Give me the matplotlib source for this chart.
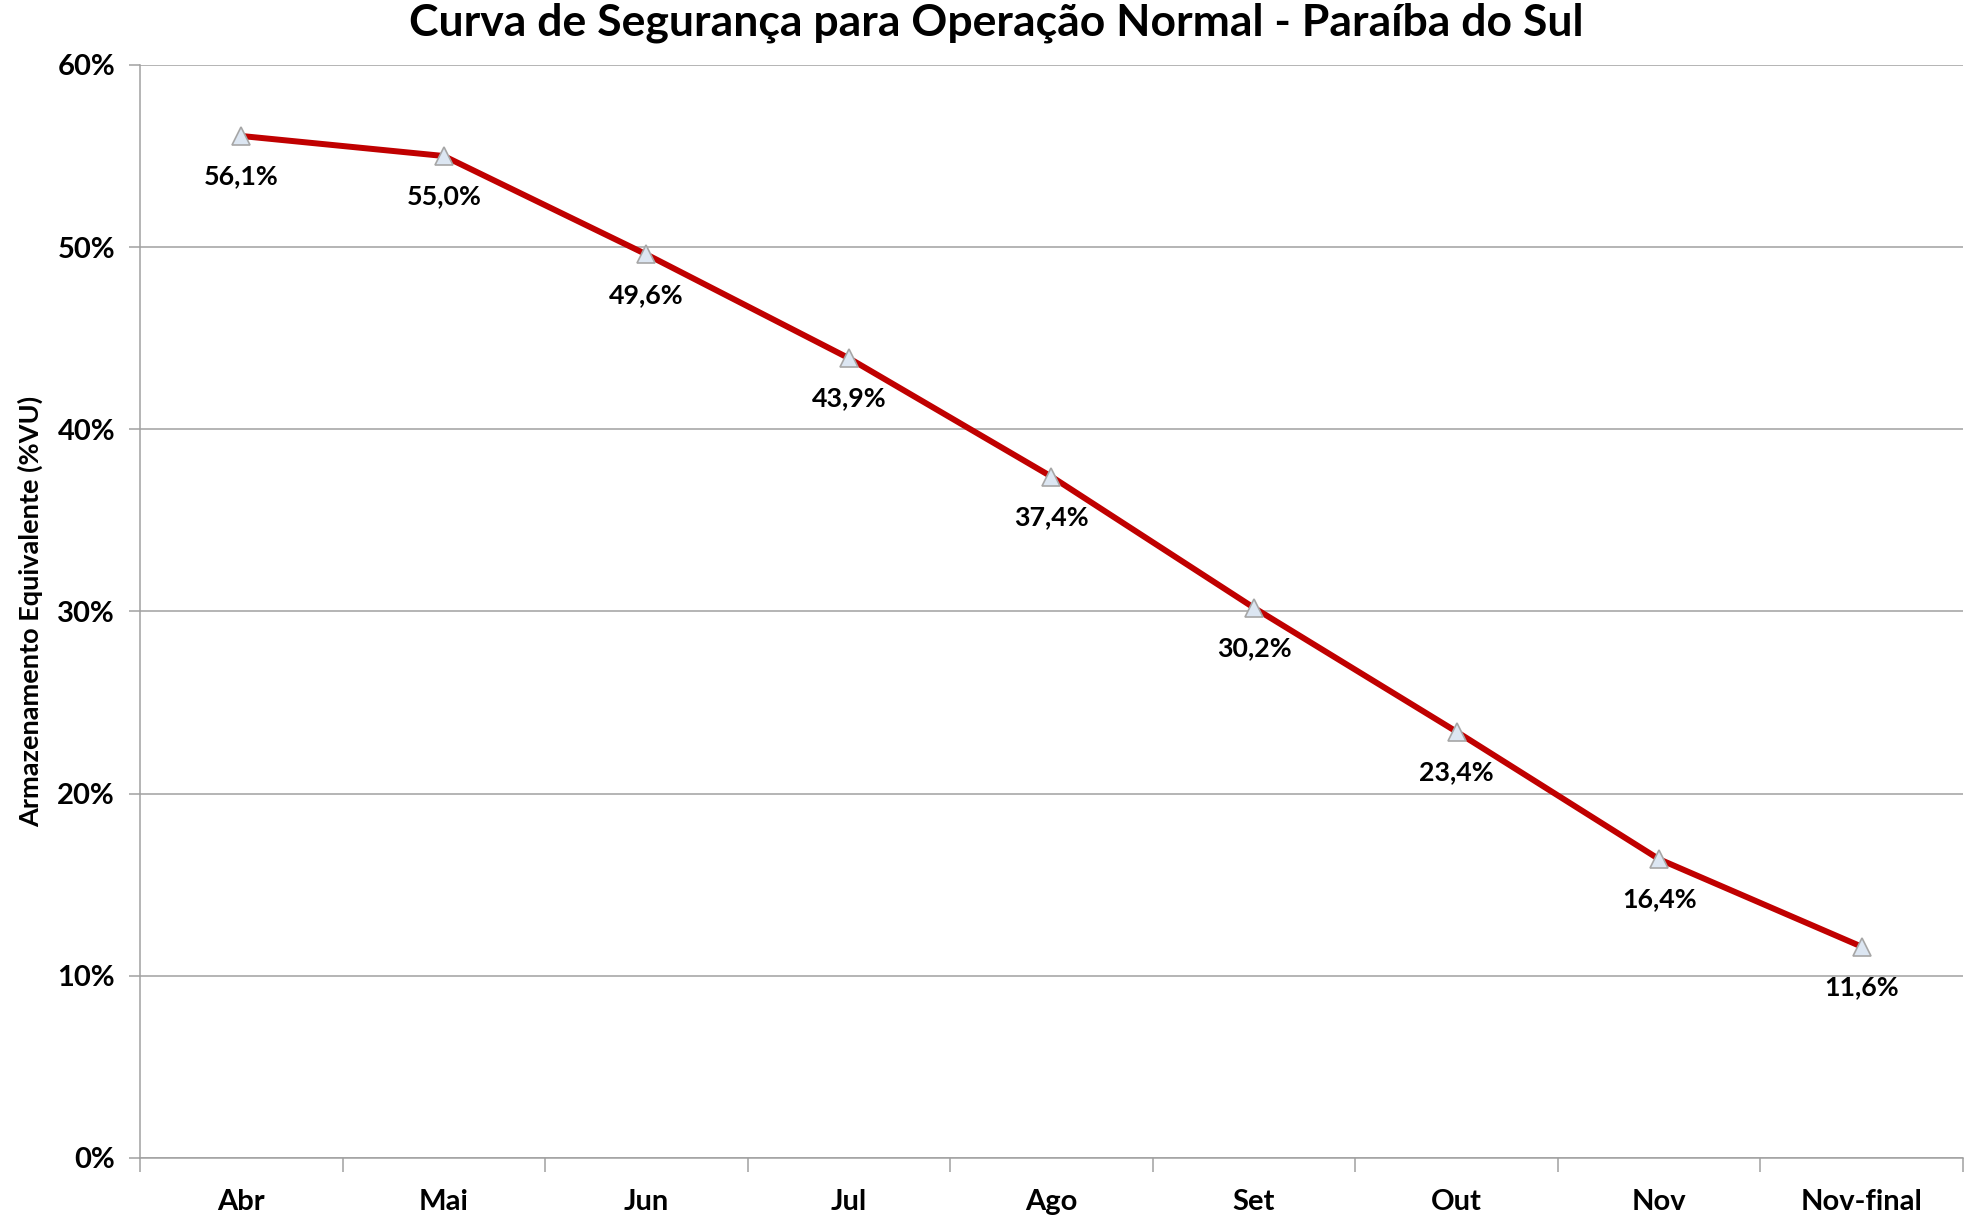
import matplotlib
matplotlib.use("Agg")
import matplotlib.pyplot as plt
from matplotlib.ticker import FuncFormatter, MultipleLocator

categories = ["Abr", "Mai", "Jun", "Jul", "Ago", "Set", "Out", "Nov", "Nov-final"]
values = [56.1, 55.0, 49.6, 43.9, 37.4, 30.2, 23.4, 16.4, 11.6]
labels = ["56,1%", "55,0%", "49,6%", "43,9%", "37,4%", "30,2%", "23,4%", "16,4%", "11,6%"]

plt.rcParams['font.family'] = ['Lato', 'DejaVu Sans']

fig = plt.figure(figsize=(19.72, 12.25), dpi=100)
ax = fig.add_axes([0.071, 0.0547, 0.9244, 0.8923])

x = list(range(len(categories)))
ax.plot(x, values, color="#c00000", lw=4.3, zorder=3,
        marker="^", markersize=13, markerfacecolor="#dce6f2",
        markeredgecolor="#a6a6a6", markeredgewidth=1.2)
for xi, v, lab in zip(x, values, labels):
    ax.annotate(lab, (xi, v), xytext=(0, -29), textcoords="offset points",
                ha="center", va="center", fontsize=19.3, fontweight="bold", color="#000000")

ax.set_xlim(-0.5, len(categories) - 0.5)
ax.set_ylim(0, 60)
ax.yaxis.set_major_locator(MultipleLocator(10))
ax.yaxis.set_major_formatter(FuncFormatter(lambda v, p: f"{int(v)}%"))
ax.grid(axis="y", color="#a0a0a0", lw=1.1)
ax.set_axisbelow(True)

ax.set_xticks([i - 0.5 for i in range(len(categories) + 1)], minor=False)
ax.set_xticklabels([])
ax.set_xticks(x, minor=True)
ax.set_xticklabels(categories, minor=True, fontsize=21, fontweight="bold")
ax.tick_params(axis="x", which="major", length=10, color="#a0a0a0", width=1.1, direction="out")
ax.tick_params(axis="x", which="minor", length=0, pad=22)
ax.tick_params(axis="y", length=8, color="#a0a0a0", width=1.1, labelsize=21, pad=10)
for lab in ax.get_yticklabels():
    lab.set_fontweight("bold")

for s in ["top", "right"]:
    ax.spines[s].set_visible(False)
for s in ["left", "bottom"]:
    ax.spines[s].set_color("#a0a0a0")
    ax.spines[s].set_linewidth(1.1)

ax.set_ylabel("Armazenamento Equivalente (%VU)", fontsize=19.5, fontweight="bold", labelpad=10)
fig.suptitle("Curva de Segurança para Operação Normal - Paraíba do Sul",
             fontsize=32, fontweight="bold", y=0.998, va="top", x=0.505)

fig.savefig("out.png", dpi=100, facecolor="white")
